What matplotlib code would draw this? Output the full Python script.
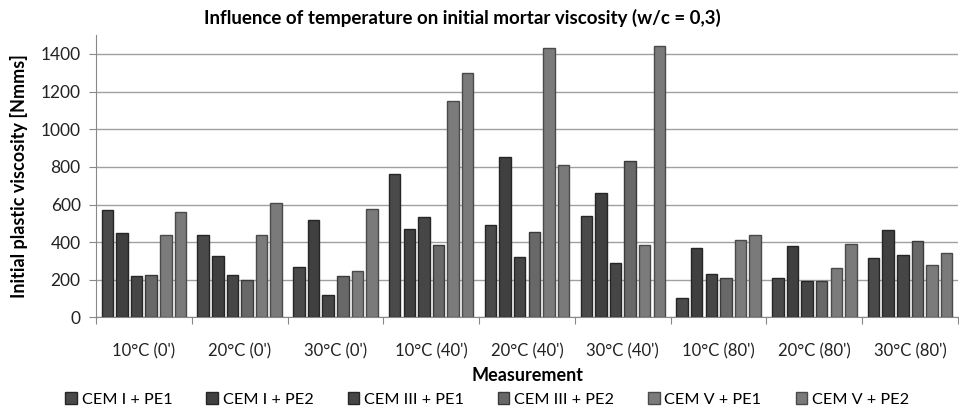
import numpy as np
import matplotlib
matplotlib.use('Agg')
from matplotlib import pyplot as plt

plt.rcParams['font.family'] = ['Lato', 'DejaVu Sans']

# 测量条件(温度 + 时间)
categories = ["10°C (0')", "20°C (0')", "30°C (0')",
              "10°C (40')", "20°C (40')", "30°C (40')",
              "10°C (80')", "20°C (80')", "30°C (80')"]
series_names = ['CEM I + PE1', 'CEM I + PE2', 'CEM III + PE1',
                'CEM III + PE2', 'CEM V + PE1', 'CEM V + PE2']
# 每个系列在各测量条件下的初始塑性粘度 [Nmms]
cem1_pe1 = [570, 440, 266, 761, 493, 539, 103, 209, 316]
cem1_pe2 = [449, 328, 516, 470, 855, 663, 369, 378, 463]
cem3_pe1 = [220, 224, 119, 535, 323, 291, 232, 195, 330]
cem3_pe2 = [224, 199, 218, 383, 456, 830, 208, 193, 406]
cem5_pe1 = [438, 438, 246, 1148, 1434, 385, 410, 261, 277]
cem5_pe2 = [560, 610, 578, 1299, 811, 1443, 436, 389, 341]
y_ticks = [0, 200, 400, 600, 800, 1000, 1200, 1400]

values = [cem1_pe1, cem1_pe2, cem3_pe1, cem3_pe2, cem5_pe1, cem5_pe2]
colors = ['#4a4a4a', '#404040', '#464646', '#686868', '#7b7b7b', '#7a7a7a']
edges = ['#262626', '#262626', '#262626', '#3a3a3a', '#4a4a4a', '#4a4a4a']

fig = plt.figure(figsize=(9.59, 4.09), dpi=100)
ax = fig.add_axes([0.1001, 0.224, 0.8989, 0.69])

x = np.arange(len(categories))
pitch = 0.1525
width = 0.12
for i in range(len(values)):
    ax.bar(x + (i - 2.5) * pitch, values[i], width=width, color=colors[i],
           edgecolor=edges[i], linewidth=1, label=series_names[i], zorder=3)

ax.set_xlim(-0.5, len(categories) - 0.5)
ax.set_ylim(0, 1500)
ax.set_yticks(y_ticks)
ax.yaxis.grid(True, color='#a0a0a0', linewidth=1, zorder=0)

# X轴刻度在组与组之间,标签在组中心
ax.set_xticks(np.arange(len(categories) + 1) - 0.5)
ax.set_xticklabels([])
ax.set_xticks(x, minor=True)
ax.set_xticklabels(categories, minor=True, fontsize=12, color='#222222')
ax.tick_params(axis='x', which='minor', length=0, pad=19)
ax.tick_params(axis='x', which='major', length=5, color='#888888')
ax.tick_params(axis='y', length=5, color='#888888', labelsize=12.5,
               labelcolor='#222222', pad=6)

for s in ['top', 'right']:
    ax.spines[s].set_visible(False)
ax.spines['left'].set_color('#888888')
ax.spines['bottom'].set_color('#888888')

ax.set_xlabel('Measurement', fontsize=13, fontweight='bold', labelpad=5)
ax.set_ylabel('Initial plastic viscosity [Nmms]', fontsize=13,
              fontweight='bold', labelpad=9)
fig.text(0.482, 0.957, 'Influence of temperature on initial mortar viscosity (w/c = 0,3)',
         ha='center', va='center', fontsize=13.5, fontweight='bold')

fig.legend(loc='lower center', bbox_to_anchor=(0.508, -0.03), ncol=6,
           frameon=False, fontsize=11.7, handlelength=0.7, handleheight=0.7,
           handletextpad=0.3, columnspacing=2.1)

plt.savefig('out.png', dpi=100)
